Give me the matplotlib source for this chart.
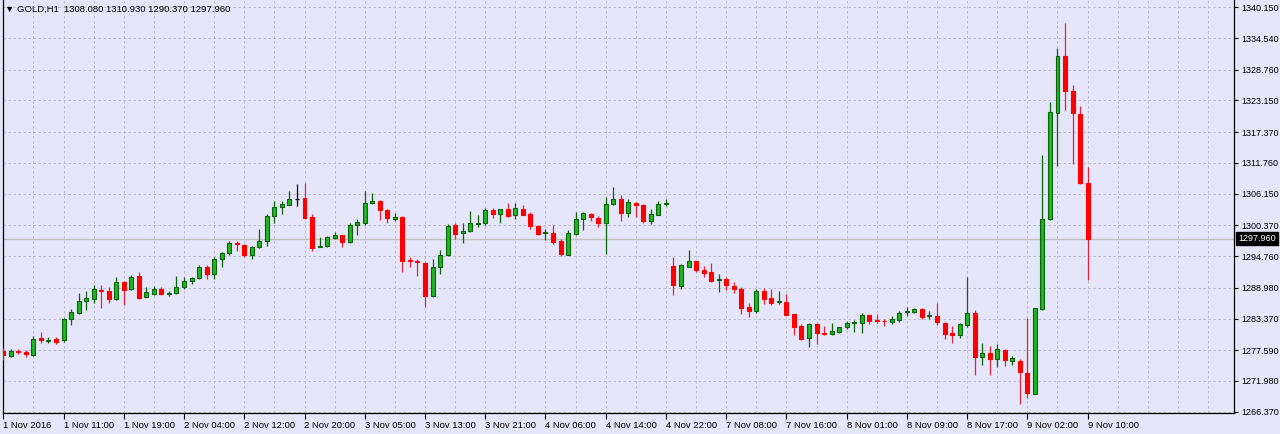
import matplotlib
matplotlib.use('Agg')
import matplotlib.pyplot as plt
import matplotlib.transforms as mtransforms
import numpy as np

# GOLD H1 candles, 1 Nov 2016 -> 9 Nov 2016
opens = [1277.45, 1276.59, 1277.39, 1277.27, 1276.72, 1279.76, 1279.33, 1279.69, 1279.45, 1283.23,
         1284.32, 1286.62, 1286.99, 1288.57, 1288.45, 1286.99, 1290.09, 1288.70, 1291.13, 1287.35,
         1287.84, 1288.70, 1287.84, 1287.97, 1289.07, 1290.22, 1290.82, 1292.71, 1291.44, 1294.17,
         1295.27, 1297.20, 1296.84, 1295.01, 1296.36, 1297.46, 1302.07, 1303.77, 1304.13, 1305.23,
         1305.35, 1301.83, 1296.36, 1296.60, 1298.06, 1298.55, 1297.33, 1300.38, 1300.74, 1304.39,
         1304.75, 1303.17, 1301.47, 1301.83, 1294.05, 1293.92, 1293.55, 1287.48, 1292.71, 1294.90,
         1300.38, 1299.03, 1299.28, 1300.61, 1300.74, 1303.17, 1302.44, 1303.29, 1302.20, 1303.40,
         1302.44, 1300.25, 1298.92, 1299.03, 1297.46, 1295.01, 1298.79, 1301.47, 1302.49, 1301.71,
         1300.74, 1304.26, 1305.12, 1302.67, 1304.50, 1304.13, 1301.21, 1302.31, 1304.26, 1292.95,
         1289.30, 1292.82, 1293.81, 1292.22, 1291.86, 1290.40, 1290.53, 1289.30, 1288.81, 1285.42,
         1284.69, 1288.45, 1287.11, 1286.39, 1286.39, 1284.20, 1282.01, 1279.82, 1282.37, 1280.68,
         1280.55, 1280.91, 1281.77, 1282.61, 1282.50, 1283.96, 1283.10, 1282.97, 1282.74, 1283.10,
         1284.56, 1284.56, 1285.05, 1283.83, 1283.83, 1282.61, 1280.68, 1280.31, 1282.24, 1284.32,
         1276.30, 1277.03, 1276.04, 1277.68, 1275.62, 1275.62, 1273.43, 1269.66, 1285.11, 1301.52,
         1320.86, 1331.31, 1324.87, 1320.73, 1308.08]
highs = [1277.94, 1277.76, 1277.76, 1277.63, 1280.18, 1280.97, 1280.06, 1280.06, 1283.41, 1285.05,
         1288.08, 1288.45, 1289.54, 1289.49, 1289.07, 1291.00, 1290.27, 1291.36, 1291.91, 1289.07,
         1289.30, 1289.18, 1288.45, 1291.13, 1291.00, 1291.00, 1293.19, 1293.19, 1294.54, 1295.56,
         1297.46, 1297.51, 1296.96, 1296.60, 1299.65, 1302.44, 1304.75, 1304.75, 1306.58, 1307.91,
         1308.04, 1302.44, 1298.30, 1298.42, 1299.15, 1298.66, 1300.85, 1301.47, 1306.69, 1306.32,
         1304.99, 1303.29, 1302.67, 1302.07, 1294.65, 1294.17, 1293.68, 1294.17, 1295.87, 1300.61,
         1300.85, 1300.85, 1302.93, 1302.31, 1303.53, 1303.53, 1303.40, 1304.50, 1304.50, 1304.02,
         1302.80, 1300.38, 1299.76, 1300.38, 1297.93, 1299.52, 1302.80, 1302.80, 1302.56, 1302.07,
         1305.48, 1307.42, 1305.85, 1305.12, 1304.63, 1304.26, 1303.29, 1304.86, 1305.23, 1294.65,
         1293.32, 1295.87, 1293.92, 1292.95, 1293.55, 1291.49, 1290.89, 1290.03, 1289.07, 1286.26,
         1288.70, 1288.94, 1288.70, 1288.45, 1287.84, 1284.20, 1282.37, 1282.50, 1282.50, 1282.01,
         1282.50, 1281.88, 1282.97, 1283.10, 1284.32, 1284.07, 1284.20, 1283.23, 1283.83, 1284.69,
         1285.42, 1285.29, 1285.29, 1284.69, 1286.15, 1282.74, 1282.01, 1282.61, 1291.00, 1284.93,
         1278.85, 1278.41, 1278.72, 1277.81, 1276.59, 1275.99, 1283.52, 1285.24, 1313.20, 1322.81,
         1332.66, 1337.27, 1325.97, 1322.19, 1310.93]
lows = [1275.81, 1276.41, 1276.90, 1276.41, 1276.54, 1278.85, 1278.85, 1278.72, 1279.14, 1282.19,
        1284.20, 1284.93, 1286.26, 1285.24, 1286.26, 1286.75, 1285.84, 1288.57, 1286.99, 1287.24,
        1287.61, 1287.61, 1287.48, 1287.84, 1288.81, 1289.67, 1290.64, 1290.64, 1290.64, 1292.71,
        1295.01, 1295.63, 1294.54, 1294.17, 1296.23, 1296.60, 1300.74, 1302.44, 1304.02, 1303.90,
        1301.58, 1295.74, 1296.36, 1296.47, 1297.93, 1296.47, 1297.20, 1298.66, 1300.48, 1304.26,
        1301.34, 1300.74, 1301.10, 1291.86, 1292.71, 1291.13, 1285.53, 1287.24, 1291.49, 1294.78,
        1297.82, 1297.09, 1299.15, 1300.12, 1300.48, 1301.71, 1300.85, 1301.94, 1301.47, 1302.20,
        1299.76, 1298.66, 1297.69, 1296.96, 1294.78, 1294.90, 1298.66, 1299.52, 1301.10, 1300.12,
        1295.14, 1304.13, 1301.21, 1301.94, 1301.83, 1300.85, 1300.61, 1302.20, 1303.90, 1287.66,
        1288.81, 1292.71, 1291.86, 1291.00, 1290.03, 1288.21, 1288.57, 1287.97, 1284.20, 1283.59,
        1284.43, 1286.02, 1285.89, 1286.02, 1283.96, 1280.31, 1279.45, 1278.23, 1278.72, 1280.42,
        1280.42, 1280.79, 1281.52, 1280.91, 1280.68, 1282.37, 1282.61, 1282.01, 1282.37, 1282.74,
        1283.83, 1284.32, 1283.34, 1283.34, 1282.14, 1279.58, 1278.96, 1279.82, 1281.88, 1273.02,
        1274.84, 1273.07, 1274.58, 1274.66, 1274.89, 1267.73, 1268.82, 1269.55, 1284.93, 1301.34,
        1311.25, 1321.35, 1311.61, 1307.96, 1290.37]
closes = [1276.72, 1277.45, 1277.21, 1276.85, 1279.64, 1279.51, 1279.51, 1279.14, 1283.28, 1284.56,
          1286.62, 1287.11, 1288.76, 1288.39, 1286.99, 1290.09, 1288.57, 1291.00, 1287.17, 1288.15,
          1288.81, 1287.79, 1288.08, 1289.07, 1290.16, 1290.82, 1292.71, 1291.44, 1294.17, 1295.32,
          1297.09, 1296.96, 1295.01, 1296.36, 1297.57, 1302.07, 1303.77, 1304.32, 1305.17, 1305.23,
          1301.71, 1296.23, 1296.60, 1298.19, 1298.55, 1297.33, 1300.48, 1300.98, 1304.39, 1304.75,
          1303.17, 1301.71, 1301.83, 1293.92, 1293.81, 1293.68, 1287.48, 1292.71, 1294.90, 1300.25,
          1298.79, 1299.28, 1300.74, 1300.85, 1303.17, 1302.44, 1303.29, 1302.07, 1303.53, 1302.31,
          1300.25, 1298.79, 1299.15, 1297.33, 1295.14, 1299.03, 1301.47, 1302.56, 1301.94, 1300.74,
          1304.26, 1305.12, 1302.67, 1304.63, 1304.13, 1301.21, 1302.44, 1304.26, 1304.50, 1289.43,
          1293.19, 1293.81, 1292.22, 1291.73, 1290.27, 1290.53, 1289.43, 1288.70, 1285.29, 1284.80,
          1288.45, 1286.99, 1286.26, 1286.51, 1284.07, 1281.77, 1279.69, 1282.37, 1280.68, 1280.49,
          1281.15, 1281.77, 1282.61, 1282.74, 1284.07, 1282.97, 1282.86, 1282.86, 1283.34, 1284.43,
          1284.69, 1285.05, 1283.59, 1283.96, 1282.74, 1280.55, 1280.42, 1282.37, 1284.32, 1276.30,
          1277.14, 1276.04, 1277.76, 1275.75, 1276.23, 1273.56, 1269.79, 1285.24, 1301.52, 1320.99,
          1331.31, 1324.87, 1320.86, 1308.08, 1297.96]

time_labels = ['1 Nov 2016', '1 Nov 11:00', '1 Nov 19:00', '2 Nov 04:00', '2 Nov 12:00',
               '2 Nov 20:00', '3 Nov 05:00', '3 Nov 13:00', '3 Nov 21:00', '4 Nov 06:00',
               '4 Nov 14:00', '4 Nov 22:00', '7 Nov 08:00', '7 Nov 16:00', '8 Nov 01:00',
               '8 Nov 09:00', '8 Nov 17:00', '9 Nov 02:00', '9 Nov 10:00']
price_ticks = [1340.150, 1334.540, 1328.760, 1323.150, 1317.370, 1311.760, 1306.150,
               1300.370, 1294.760, 1288.980, 1283.370, 1277.590, 1271.980, 1266.370]
bid = 1297.960
header = '\u25BC GOLD,H1  1308.080 1310.930 1290.370 1297.960'

BG = '#E6E6FA'
UP_FILL, UP_EDGE = '#22B422', '#0A640A'
DN_FILL, DN_EDGE = '#FF0000', '#E8203A'
GRID = '#B4B4C4'

plt.rcParams['font.family'] = ['Liberation Sans', 'DejaVu Sans']
plt.rcParams['font.size'] = 7

fig = plt.figure(figsize=(12.8, 4.34), dpi=100, facecolor=BG)
ax = fig.add_axes([2.5 / 1280, 21 / 434, (1234 - 2.5) / 1280, 413 / 434])
ax.set_facecolor(BG)

o = np.array(opens)
h = np.array(highs)
l = np.array(lows)
c = np.array(closes)
x = np.arange(len(o))

up = c > o
dn = c < o
dj = c == o

# wicks
ax.vlines(x[up], l[up], h[up], color=UP_EDGE, lw=0.9, zorder=3)
ax.vlines(x[dn], l[dn], h[dn], color=DN_EDGE, lw=0.9, zorder=3)
ax.vlines(x[dj], l[dj], h[dj], color='black', lw=0.9, zorder=3)

# bodies
w = 0.53
ax.bar(x[up], c[up] - o[up], bottom=o[up], width=w, color=UP_FILL, edgecolor=UP_EDGE,
       linewidth=0.8, zorder=4)
ax.bar(x[dn], o[dn] - c[dn], bottom=c[dn], width=w, color=DN_FILL, edgecolor=DN_FILL,
       linewidth=0.8, zorder=4)
ax.hlines(o[dj], x[dj] - w / 2, x[dj] + w / 2, color='black', lw=0.9, zorder=4)

# bid line
ax.axhline(bid, color='#C0C0C0', lw=1.0, zorder=2)

ax.set_xlim((2.5 - 3.3) / 7.53, (1234 - 3.3) / 7.53)
ax.set_ylim(1341.48 - 0.18244 * 413, 1341.48)

ax.set_xticks(np.arange(0, len(o), 8))
ax.set_xticklabels(time_labels)
ax.set_xticks(np.arange(0, 164, 4), minor=True)
plt.setp(ax.get_xticklabels(), ha='left')
ax.tick_params(axis='x', which='major', direction='out', length=4, width=0.8, pad=2,
               colors='black', labelsize=6.8)
ax.tick_params(axis='x', which='minor', length=0)

ax.yaxis.tick_right()
ax.set_yticks(price_ticks)
ax.set_yticklabels([f'{v:.3f}' for v in price_ticks])
ax.tick_params(axis='y', direction='out', length=3, width=0.8, pad=2.5, colors='black',
               labelsize=6.5)

ax.grid(True, axis='x', which='both', color=GRID, lw=0.6, linestyle=(0, (3, 3)), zorder=0)
ax.grid(True, axis='y', which='major', color=GRID, lw=0.6, linestyle=(0, (3, 3)), zorder=0)
ax.set_axisbelow(True)

for side in ['left', 'bottom', 'right']:
    ax.spines[side].set_color('black')
    ax.spines[side].set_linewidth(0.9)
ax.spines['top'].set_visible(False)

# bid price tag on the price scale
tr = mtransforms.offset_copy(ax.get_yaxis_transform(), fig=fig, x=4.5, y=0, units='dots')
ax.text(1.0, bid, f'{bid:.3f}', transform=tr, ha='left', va='center', color='white',
        fontsize=6.5, bbox=dict(boxstyle='square,pad=0.25', fc='black', ec='black'), zorder=6)

fig.text(5 / 1280, 1 - 9.5 / 434, header, ha='left', va='center', fontsize=6.8)

fig.savefig('out.png', dpi=100, facecolor=BG)
